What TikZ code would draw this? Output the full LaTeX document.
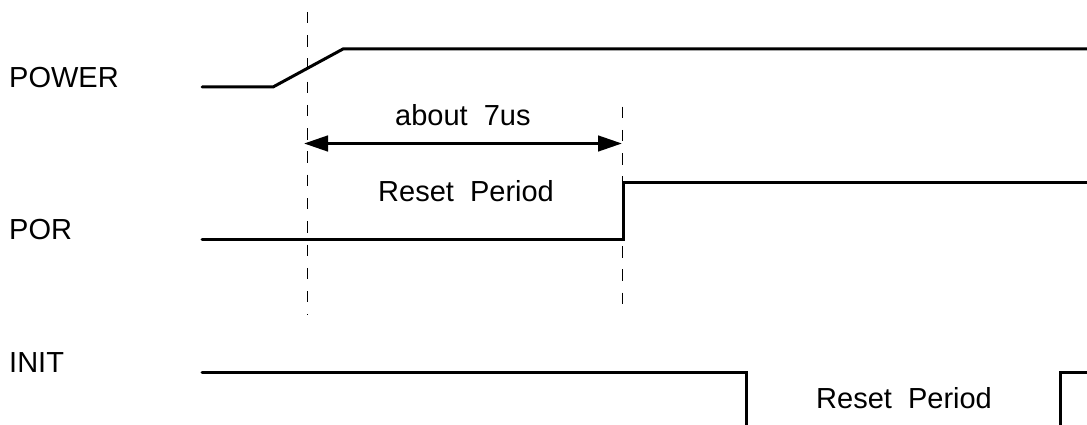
\documentclass[tikz,border=0pt]{standalone}
\usepackage{fontspec}
\setmainfont{Liberation Sans}
\usetikzlibrary{arrows.meta}
\tikzset{
  sig/.style={line width=3pt,line join=miter,line cap=round,black},
  guide/.style={line width=1pt,black,dash pattern=on 11.4pt off 11.85pt},
  span/.style={line width=3pt,{Triangle[length=24pt,width=15.5pt]}-{Triangle[length=24pt,width=15.5pt]}},
  lab/.style={inner sep=0pt,font=\fontsize{29}{33}\selectfont,anchor=base west},
}
\begin{document}
\begin{tikzpicture}[x=1pt,y=-1pt]
\useasboundingbox (0,0) rectangle (1087,425);
\node[lab] (power) at (9,87.5) {POWER};
\node[lab] (por) at (9,239) {POR};
\node[lab] (init) at (9,372) {INIT};
\node[lab] (about) at (395,125.5) {about\ \ 7us};
\node[lab] (reset1) at (378,201) {Reset\ \ Period};
\node[lab] (reset2) at (816,408.5) {Reset\ \ Period};
\coordinate (a0) at (202,87); \coordinate (a1) at (273,87); \coordinate (a2) at (343,49); \coordinate (a3) at (1089,49);
\coordinate (b0) at (202,239); \coordinate (b1) at (623,239); \coordinate (b2) at (623,182); \coordinate (b3) at (1089,182);
\coordinate (c0) at (202,372); \coordinate (c1) at (746,372); \coordinate (c2) at (746,427);
\coordinate (d0) at (1060,427); \coordinate (d1) at (1060,372); \coordinate (d2) at (1089,372);
\coordinate (g0) at (307.3,12); \coordinate (g1) at (307.3,315);
\coordinate (h0) at (622.3,106.7); \coordinate (h1) at (622.3,304.4);
\coordinate (s0) at (304,143.5); \coordinate (s1) at (622,143.5);
\draw[guide] (g0) -- (g1);
\draw[guide] (h0) -- (h1);
\draw[sig] (a0) -- (a1) -- (a2) -- (a3);
\draw[sig] (b0) -- (b1) -- (b2) -- (b3);
\draw[sig] (c0) -- (c1) -- (c2);
\draw[sig] (d0) -- (d1) -- (d2);
\draw[span] (s0) -- (s1);
\end{tikzpicture}
\end{document}
